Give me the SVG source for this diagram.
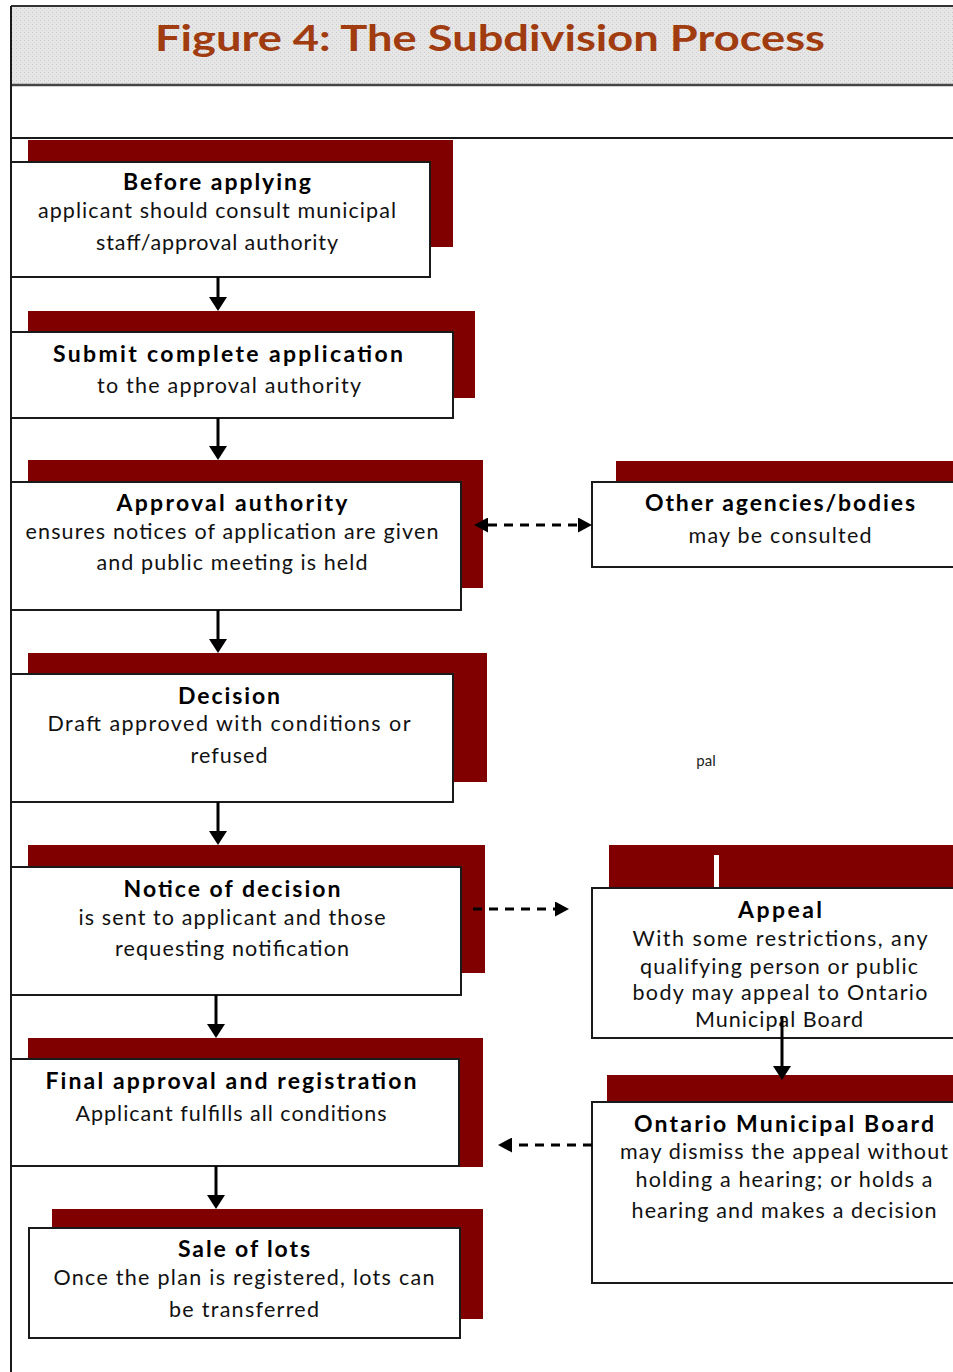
<svg xmlns="http://www.w3.org/2000/svg" width="953" height="1372" viewBox="0 0 953 1372">
  <defs>
    <style>
      .shadow { fill: #800000; }
      .box { fill: #ffffff; stroke: #1a1a1a; stroke-width: 2; }
      .h { font-family: Lato, "Liberation Sans", "DejaVu Sans", sans-serif; font-weight: 700; font-size: 23px; fill: #000; text-anchor: middle; }
      .t { font-family: Lato, "Liberation Sans", "DejaVu Sans", sans-serif; font-weight: 400; font-size: 21.5px; fill: #111; text-anchor: middle; }
      .flow { stroke: #000; stroke-width: 3; fill: none; }
      .dash { stroke: #000; stroke-width: 3; fill: none; stroke-dasharray: 9 7; }
      .frame { stroke: #1a1a1a; stroke-width: 2; fill: none; }
    </style>
    <pattern id="stipple" width="4" height="4" patternUnits="userSpaceOnUse">
      <rect width="4" height="4" fill="#e6e6e6"/>
      <rect x="0" y="0" width="1" height="1" fill="#c9c9c9"/>
      <rect x="2" y="2" width="1" height="1" fill="#d2d2d2"/>
    </pattern>
    <marker id="head" viewBox="0 0 14 18" refX="0" refY="9" markerWidth="14" markerHeight="18" markerUnits="userSpaceOnUse" orient="auto-start-reverse">
      <path d="M0,0 L14,9 L0,18 z" fill="#000"/>
    </marker>
    <marker id="headSmall" viewBox="0 0 14 15" refX="0" refY="7.5" markerWidth="14" markerHeight="15" markerUnits="userSpaceOnUse" orient="auto-start-reverse">
      <path d="M0,0 L14,7.5 L0,15 z" fill="#000"/>
    </marker>
  </defs>

  <rect width="953" height="1372" fill="#ffffff"/>

  <!-- title band -->
  <g id="title">
    <rect x="11" y="6" width="950" height="79" fill="url(#stipple)"/>
    <line x1="11" y1="6" x2="953" y2="6" stroke="#333" stroke-width="2"/>
    <line x1="11" y1="85" x2="953" y2="85" stroke="#444" stroke-width="2.5"/>
    <line x1="11" y1="138" x2="953" y2="138" class="frame"/>
    <text x="490" y="51" font-family="Lato, 'Liberation Sans', sans-serif" font-weight="700" font-size="37" fill="#a03c0f" text-anchor="middle" textLength="670" lengthAdjust="spacingAndGlyphs">Figure 4: The Subdivision Process</text>
  </g>

  <!-- page frame left edge -->
  <line x1="11" y1="6" x2="11" y2="1372" class="frame"/>

  <g id="before-applying">
    <rect class="shadow" x="28" y="140" width="425" height="107"/>
    <rect class="box" x="11" y="162" width="419" height="115"/>
    <text class="h" x="217" y="190" textLength="188">Before applying</text>
    <text class="t" x="217" y="218" textLength="358">applicant should consult municipal</text>
    <text class="t" x="217" y="250" textLength="242">staff/approval authority</text>
  </g>

  <g id="submit-application">
    <rect class="shadow" x="28" y="311" width="447" height="87"/>
    <rect class="box" x="11" y="332" width="442" height="86"/>
    <text class="h" x="228" y="362" textLength="350">Submit complete application</text>
    <text class="t" x="229" y="393" textLength="264">to the approval authority</text>
  </g>

  <g id="approval-authority">
    <rect class="shadow" x="28" y="460" width="455" height="128"/>
    <rect class="box" x="11" y="482" width="450" height="128"/>
    <text class="h" x="232" y="511" textLength="231">Approval authority</text>
    <text class="t" x="232" y="539" textLength="413">ensures notices of application are given</text>
    <text class="t" x="232" y="570" textLength="271">and public meeting is held</text>
  </g>

  <g id="other-agencies">
    <rect class="shadow" x="616" y="461" width="340" height="21"/>
    <rect class="box" x="592" y="482" width="370" height="85"/>
    <text class="h" x="780" y="511" textLength="270">Other agencies/bodies</text>
    <text class="t" x="780" y="543" textLength="183">may be consulted</text>
  </g>

  <g id="decision">
    <rect class="shadow" x="28" y="653" width="459" height="129"/>
    <rect class="box" x="11" y="674" width="442" height="128"/>
    <text class="h" x="229" y="704" textLength="102">Decision</text>
    <text class="t" x="229" y="731" textLength="363">Draft approved with conditions or</text>
    <text class="t" x="229" y="763" textLength="77">refused</text>
  </g>

  <text id="stray-label" x="706" y="766" font-family="Lato, 'Liberation Sans', sans-serif" font-size="15" fill="#222" text-anchor="middle">pal</text>

  <g id="notice-of-decision">
    <rect class="shadow" x="28" y="845" width="457" height="128"/>
    <rect class="box" x="11" y="867" width="450" height="128"/>
    <text class="h" x="232" y="897" textLength="217">Notice of decision</text>
    <text class="t" x="232" y="925" textLength="307">is sent to applicant and those</text>
    <text class="t" x="232" y="956" textLength="234">requesting notification</text>
  </g>

  <g id="appeal">
    <rect class="shadow" x="609" y="845" width="347" height="43"/>
    <rect x="714" y="855" width="5" height="32" fill="#ffffff"/>
    <rect class="box" x="592" y="888" width="370" height="150"/>
    <text class="h" x="780" y="918" textLength="84">Appeal</text>
    <text class="t" x="780" y="946" textLength="295">With some restrictions, any</text>
    <text class="t" x="779" y="974" textLength="278">qualifying person or public</text>
    <text class="t" x="780" y="1000" textLength="295">body may appeal to Ontario</text>
    <text class="t" x="779" y="1027" textLength="168">Municipal Board</text>
  </g>

  <g id="final-approval">
    <rect class="shadow" x="28" y="1038" width="455" height="129"/>
    <rect class="box" x="11" y="1059" width="448" height="107"/>
    <text class="h" x="231" y="1089" textLength="371">Final approval and registration</text>
    <text class="t" x="231" y="1121" textLength="311">Applicant fulfills all conditions</text>
  </g>

  <g id="ontario-municipal-board">
    <rect class="shadow" x="607" y="1075" width="349" height="27"/>
    <rect class="box" x="592" y="1102" width="370" height="181"/>
    <text class="h" x="784" y="1132" textLength="300">Ontario Municipal Board</text>
    <text class="t" x="784" y="1159" textLength="328">may dismiss the appeal without</text>
    <text class="t" x="784" y="1187" textLength="297">holding a hearing; or holds a</text>
    <text class="t" x="784" y="1218" textLength="305">hearing and makes a decision</text>
  </g>

  <g id="sale-of-lots">
    <rect class="shadow" x="52" y="1209" width="431" height="110"/>
    <rect class="box" x="29" y="1228" width="431" height="110"/>
    <text class="h" x="244" y="1257" textLength="132">Sale of lots</text>
    <text class="t" x="244" y="1285" textLength="381">Once the plan is registered, lots can</text>
    <text class="t" x="244" y="1317" textLength="150">be transferred</text>
  </g>

  <!-- connectors -->
  <g id="connectors">
    <line class="flow" x1="218" y1="277" x2="218" y2="297" marker-end="url(#head)"/>
    <line class="flow" x1="218" y1="418" x2="218" y2="446" marker-end="url(#head)"/>
    <line class="flow" x1="218" y1="610" x2="218" y2="639" marker-end="url(#head)"/>
    <line class="flow" x1="218" y1="802" x2="218" y2="831" marker-end="url(#head)"/>
    <line class="flow" x1="216" y1="995" x2="216" y2="1024" marker-end="url(#head)"/>
    <line class="flow" x1="216" y1="1166" x2="216" y2="1195" marker-end="url(#head)"/>
    <line class="dash" x1="488" y1="525" x2="578" y2="525" marker-start="url(#headSmall)" marker-end="url(#headSmall)"/>
    <line class="dash" x1="473" y1="909" x2="555" y2="909" marker-end="url(#headSmall)"/>
    <line class="flow" x1="782" y1="1016" x2="782" y2="1066" marker-end="url(#head)"/>
    <line class="dash" x1="592" y1="1145" x2="512" y2="1145" marker-end="url(#headSmall)"/>
  </g>
</svg>
